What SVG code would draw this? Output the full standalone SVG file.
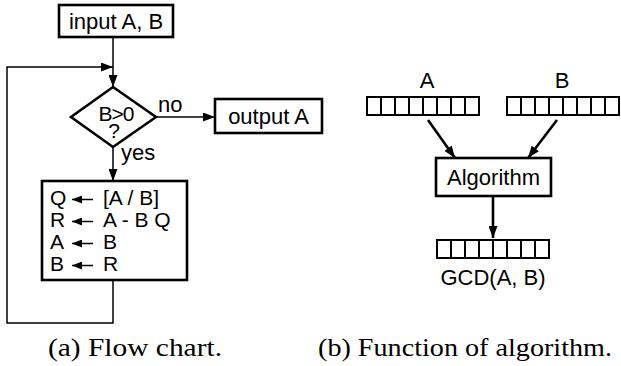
<svg xmlns="http://www.w3.org/2000/svg" width="621" height="366" viewBox="0 0 621 366">
<style>
  .t { font-family: "Liberation Sans", Arial, sans-serif; font-size: 22px; fill: #000; }
  .p { font-family: "Liberation Sans", Arial, sans-serif; font-size: 21px; fill: #000; }
  .cap { font-family: "Liberation Serif", "Times New Roman", serif; font-size: 26px; fill: #000; }
  .box { fill: #fff; stroke: #000; stroke-width: 2.6; }
  .cell { fill: #fff; stroke: #000; stroke-width: 2; }
  .ln { fill: none; stroke: #000; stroke-width: 1.5; }
  .thk { fill: none; stroke: #000; stroke-width: 2.6; }
</style>
<defs>
  <marker id="ah" markerUnits="userSpaceOnUse" markerWidth="13" markerHeight="9" refX="12" refY="4.5" orient="auto">
    <path d="M0,0 L12,4.5 L0,9 z" fill="#000"/>
  </marker>
  <marker id="ahs" markerUnits="userSpaceOnUse" markerWidth="11" markerHeight="8" refX="10" refY="4" orient="auto">
    <path d="M0,0 L10,4 L0,8 z" fill="#000"/>
  </marker>
  <g id="reg">
    <rect class="cell" x="0" y="0" width="112" height="18"/>
    <path class="cell" d="M14,0 V18 M28,0 V18 M42,0 V18 M56,0 V18 M70,0 V18 M84,0 V18 M98,0 V18"/>
  </g>
</defs>

<g id="connectors">
  <line class="ln" x1="113" y1="37" x2="113" y2="87" marker-end="url(#ah)"/>
  <polyline class="ln" points="113,280 113,323 7,323 7,67 113,67" marker-end="url(#ah)"/>
  <line class="ln" x1="156" y1="117" x2="215" y2="117" marker-end="url(#ah)"/>
  <line class="ln" x1="113" y1="147" x2="113" y2="181" marker-end="url(#ah)"/>
  <line class="thk" x1="428" y1="120" x2="455" y2="158" marker-end="url(#ah)"/>
  <line class="thk" x1="557" y1="120" x2="528" y2="158" marker-end="url(#ah)"/>
  <line class="thk" x1="493" y1="196" x2="493" y2="238" marker-end="url(#ah)"/>
</g>

<g id="input">
  <rect class="box" x="59" y="5" width="114" height="32"/>
  <text class="t" x="116" y="29" text-anchor="middle">input A, B</text>
</g>

<g id="decision">
  <polygon class="box" points="113,87 156,117 113,147 71,117"/>
  <text class="p" x="116" y="121" text-anchor="middle" letter-spacing="-1">B&gt;0</text>
  <text class="p" x="114" y="138" text-anchor="middle">?</text>
  <text class="t" x="158" y="112">no</text>
  <text class="t" x="121" y="160">yes</text>
</g>

<g id="output">
  <rect class="box" x="215" y="99" width="107" height="34"/>
  <text class="t" x="268.5" y="124" text-anchor="middle">output A</text>
</g>

<g id="process">
  <rect class="box" x="42" y="181" width="145" height="99"/>
  <text class="p" x="50" y="205">Q</text>
  <text class="p" x="103" y="205">[A / B]</text>
  <text class="p" x="50" y="227">R</text>
  <text class="p" x="103" y="227">A - B Q</text>
  <text class="p" x="50" y="249">A</text>
  <text class="p" x="103" y="249">B</text>
  <text class="p" x="50" y="271">B</text>
  <text class="p" x="103" y="271">R</text>
  <line class="ln" x1="93" y1="199.5" x2="72" y2="199.5" stroke-width="2" marker-end="url(#ahs)"/>
  <line class="ln" x1="93" y1="221.5" x2="72" y2="221.5" stroke-width="2" marker-end="url(#ahs)"/>
  <line class="ln" x1="93" y1="243.5" x2="72" y2="243.5" stroke-width="2" marker-end="url(#ahs)"/>
  <line class="ln" x1="93" y1="265.5" x2="72" y2="265.5" stroke-width="2" marker-end="url(#ahs)"/>
</g>

<g id="regA">
  <text class="t" x="427" y="88" text-anchor="middle">A</text>
  <use href="#reg" x="367" y="97"/>
</g>

<g id="regB">
  <text class="t" x="562" y="88" text-anchor="middle">B</text>
  <use href="#reg" x="507" y="97"/>
</g>

<g id="algorithm">
  <rect class="box" x="436" y="158" width="115" height="38"/>
  <text class="t" x="493.5" y="185" text-anchor="middle">Algorithm</text>
</g>

<g id="regGCD">
  <use href="#reg" x="437" y="240"/>
  <text class="t" x="493" y="285" text-anchor="middle">GCD(A, B)</text>
</g>

<g id="captions">
  <text class="cap" x="48" y="356" textLength="174" lengthAdjust="spacingAndGlyphs">(a) Flow chart.</text>
  <text class="cap" x="318" y="356" textLength="294" lengthAdjust="spacingAndGlyphs">(b) Function of algorithm.</text>
</g>
</svg>
